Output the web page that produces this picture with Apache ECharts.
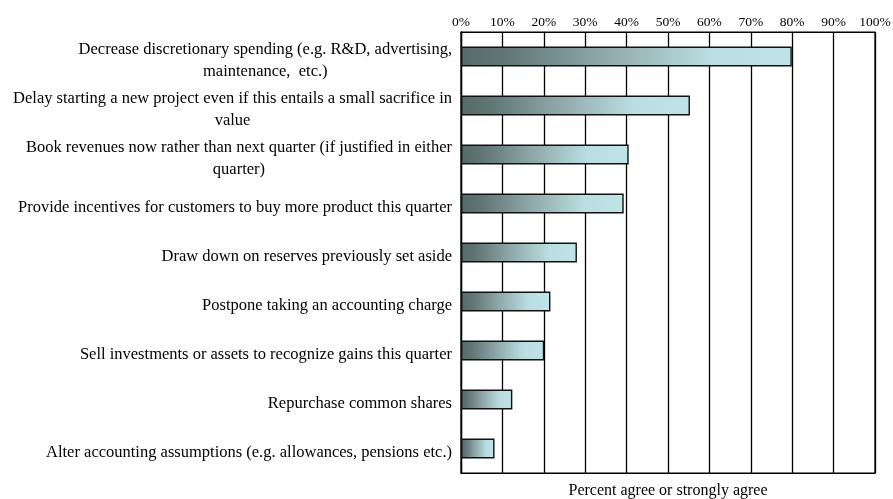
<!DOCTYPE html>
<html>
<head>
<meta charset="utf-8">
<script src="https://cdn.jsdelivr.net/npm/echarts@6/dist/echarts.min.js"></script>
<style>
html,body{margin:0;padding:0;background:#fff;}
#c{width:893px;height:499px;}
</style>
</head>
<body>
<div id="c"></div>
<script>
const categories = [
  "Decrease discretionary spending (e.g. R&D, advertising,\nmaintenance,  etc.)",
  "Delay starting a new project even if this entails a small sacrifice in\nvalue",
  "Book revenues now rather than next quarter (if justified in either\nquarter)",
  "Provide incentives for customers to buy more product this quarter",
  "Draw down on reserves previously set aside",
  "Postpone taking an accounting charge",
  "Sell investments or assets to recognize gains this quarter",
  "Repurchase common shares",
  "Alter accounting assumptions (e.g. allowances, pensions etc.)"
];
const values = [79.9, 55.3, 40.5, 39.3, 28.0, 21.6, 20.1, 12.4, 8.1];
const xTicks = [0, 10, 20, 30, 40, 50, 60, 70, 80, 90, 100];
const axisName = "Percent agree or strongly agree";

const FONT = "'Liberation Serif', 'Times New Roman', serif";
const chart = echarts.init(document.getElementById('c'), null, {renderer: 'canvas'});
chart.setOption({
  animation: false,
  backgroundColor: '#fff',
  grid: {left: 461, right: 18, top: 32, bottom: 26, show: true, borderColor: '#000', borderWidth: 1.2,
         containLabel: false, outerBoundsMode: 'none'},
  xAxis: [{
    type: 'value',
    position: 'top',
    min: xTicks[0],
    max: xTicks[xTicks.length - 1],
    interval: 10,
    axisLine: {show: true, lineStyle: {color: '#000', width: 1.2}},
    axisTick: {show: false},
    axisLabel: {formatter: v => v + '%', color: '#000', fontFamily: FONT, fontSize: 13.5, margin: 3,
                showMinLabel: true, showMaxLabel: true},
    splitLine: {show: true, lineStyle: {color: '#000', width: 1.3}}
  }, {
    type: 'value',
    position: 'bottom',
    min: xTicks[0],
    max: xTicks[xTicks.length - 1],
    interval: 10,
    axisLine: {show: true, lineStyle: {color: '#000', width: 1.2}},
    axisTick: {show: false},
    axisLabel: {show: false},
    splitLine: {show: false},
    name: axisName,
    nameLocation: 'middle',
    nameGap: 10,
    nameTextStyle: {color: '#000', fontFamily: FONT, fontSize: 16}
  }],
  yAxis: {
    type: 'category',
    inverse: true,
    data: categories,
    axisLine: {show: true, lineStyle: {color: '#000', width: 1.3}},
    axisTick: {show: false},
    axisLabel: {
      margin: 9,
      interval: 0,
      showMinLabel: true,
      showMaxLabel: true,
      color: '#000',
      fontFamily: FONT,
      fontSize: 16.5,
      lineHeight: 22,
      padding: [8, 0, 0, 0],
      formatter: v => v.split('\n').map(l => '{a|' + l + '}').join('\n'),
      rich: {a: {align: 'center', fontFamily: FONT, fontSize: 16.5, lineHeight: 22, color: '#000'}}
    }
  },
  series: [{
    type: 'bar',
    data: values,
    barWidth: 20,
    itemStyle: {
      borderColor: '#111',
      borderWidth: 1.4,
      color: new echarts.graphic.LinearGradient(0, 0, 1, 0, [
        {offset: 0, color: '#566a69'},
        {offset: 0.12, color: '#5f7473'},
        {offset: 0.4, color: '#8ba3a4'},
        {offset: 0.75, color: '#b9dde0'},
        {offset: 1, color: '#bfe3e6'}
      ])
    }
  }]
});
</script>
</body>
</html>
